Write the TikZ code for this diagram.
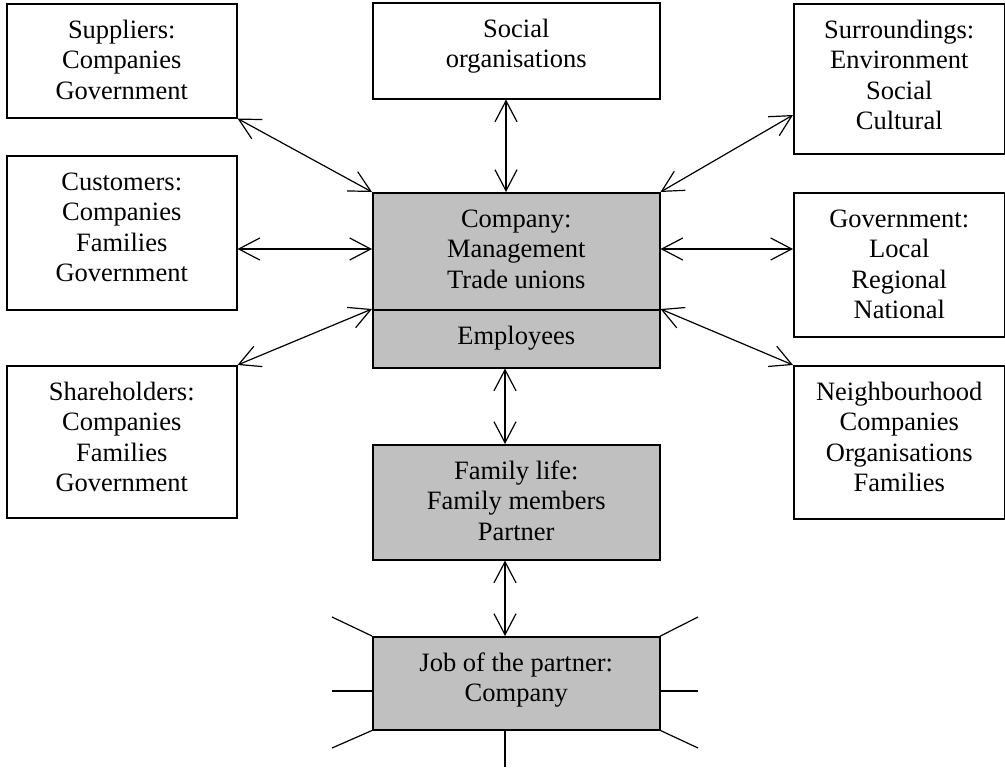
\documentclass[tikz,border=0pt]{standalone}
\usepackage{fontspec}
\setmainfont{Liberation Serif}
\usetikzlibrary{arrows.meta}
\definecolor{boxgray}{RGB}{192,192,192}
\newcommand\bxtext[3]{\parbox[c][#2][t]{#1}{\centering\rule{0pt}{34.5pt}#3\par}}
\begin{document}
\begin{tikzpicture}[x=1pt,y=-1pt,
  box/.style={draw, line width=1.5pt, inner sep=0pt, anchor=north west,
    font=\fontsize{26.5}{30.5}\selectfont},
  graybox/.style={box, fill=boxgray},
  conn/.style={{Straight Barb[length=21pt,width=22pt]}-{Straight Barb[length=21pt,width=22pt]}, line width=1.2pt},
  ray/.style={line width=1.2pt}]
\useasboundingbox (0,0) rectangle (1005,771);
% left column
\node[box] (sup) at (6,3) {\bxtext{230pt}{114pt}{Suppliers:\\Companies\\Government}};
\node[box] (cus) at (6,155) {\bxtext{230pt}{154pt}{Customers:\\Companies\\Families\\Government}};
\node[box] (sha) at (6,365) {\bxtext{230pt}{152pt}{Shareholders:\\Companies\\Families\\Government}};
% right column
\node[box] (sur) at (793,3) {\bxtext{211pt}{150pt}{Surroundings:\\Environment\\Social\\Cultural}};
\node[box] (gov) at (793,192) {\bxtext{211pt}{144pt}{Government:\\Local\\Regional\\National}};
\node[box] (nei) at (793,365) {\bxtext{211pt}{153pt}{Neighbourhood\\Companies\\Organisations\\Families}};
% centre column
\node[box] (soc) at (372,2) {\bxtext{287pt}{96pt}{Social\\organisations}};
\node[graybox] (com) at (372,192) {\bxtext{287pt}{117pt}{Company:\\Management\\Trade unions}};
\node[graybox] (emp) at (372,309) {\bxtext{287pt}{58pt}{Employees}};
\node[graybox] (fam) at (372,444) {\bxtext{287pt}{115pt}{Family life:\\Family members\\Partner}};
\node[graybox] (job) at (372,636) {\bxtext{287pt}{93pt}{Job of the partner:\\Company}};
% connectors
\draw[conn] (sup.south east) -- (com.north west);
\draw[conn] (cus.east |- 0,249) -- (com.west |- 0,249);
\draw[conn] (sha.north east) -- (emp.north west);
\draw[conn] (sur.west |- 0,115) -- (com.north east);
\draw[conn] (gov.west |- 0,249) -- (com.east |- 0,249);
\draw[conn] (emp.north east) -- (nei.north west);
\draw[conn] (soc.south -| 506,0) -- (com.north -| 506,0);
\draw[conn] (emp.south -| 505,0) -- (fam.north -| 505,0);
\draw[conn] (fam.south -| 505,0) -- (job.north -| 505,0);
% rays from job of the partner
\coordinate (r1) at (332,617);
\coordinate (r2) at (332,691);
\coordinate (r3) at (332,748);
\coordinate (r4) at (698,617);
\coordinate (r5) at (698,691);
\coordinate (r6) at (698,748);
\coordinate (r7) at (505,767);
\draw[ray] (job.north west) -- (r1);
\draw[ray] (job.west |- r2) -- (r2);
\draw[ray] (job.south west) -- (r3);
\draw[ray] (job.north east) -- (r4);
\draw[ray] (job.east |- r5) -- (r5);
\draw[ray] (job.south east) -- (r6);
\draw[ray] (job.south -| r7) -- (r7);
\end{tikzpicture}
\end{document}
